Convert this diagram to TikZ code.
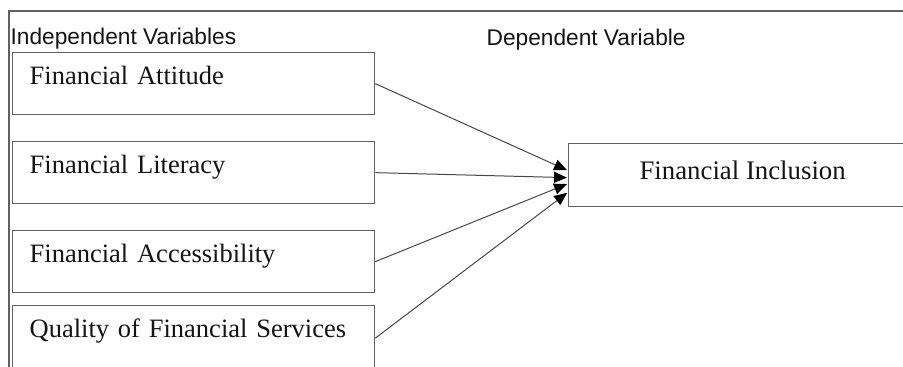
\documentclass[tikz,border=0pt]{standalone}
\usepackage{fontspec}
\setmainfont{Liberation Serif}
\setsansfont{Liberation Sans}
\usetikzlibrary{arrows.meta}

\begin{document}
\begin{tikzpicture}[x=1pt,y=-1pt,line width=1.3pt,draw=black!62]
    \tikzstyle{var box}=[draw,rectangle,anchor=north west,inner xsep=17pt,inner ysep=0pt,
        text width=328pt,align=left,text height=32pt,
        font=\fontsize{26.5}{30}\selectfont,text=black!92]
    \tikzstyle{dep box}=[draw,rectangle,anchor=north west,inner xsep=0pt,inner ysep=0pt,
        minimum width=348pt,text height=36pt,text depth=27pt,
        font=\fontsize{26.8}{30}\selectfont,text=black!92]
    \tikzstyle{annot}=[anchor=base west,inner sep=0pt,text=black!92,
        font=\sffamily\fontsize{22.7}{26}\selectfont]
    \tikzstyle{arr}=[-{Triangle[length=13pt,width=11pt,color=black]},
        line width=1pt,draw=black!72,shorten >=1pt]

    \useasboundingbox (0,0) rectangle (903,367);
    \clip (0,0) rectangle (903,367);

    % frame round the model
    \draw (9,368) -- (9,11) -- (904,11);

    % column headings
    \node[annot] (iv) at (10,44) {Independent Variables};
    \node[annot] (dv) at (486,45) {Dependent Variable};

    % the independent variables
    \foreach \name/\y/\dep/\label in {fa/52/30/Financial Attitude,
                                     fl/141/30/Financial Literacy,
                                     fac/230/30/Financial Accessibility,
                                     qfs/305/33/Quality of Financial Services}
        \node[var box,text depth=\dep pt] (\name) at (12,\y) {\label};

    % the dependent variable
    \node[dep box] (fi) at (568,143) {Financial Inclusion};

    % every independent variable points to the dependent one
    \foreach \source/\dy in {fa/4.5,fl/-2.5,fac/-8.5,qfs/-17}
        \draw[arr] (\source.east) -- ([yshift=\dy pt]fi.west);
\end{tikzpicture}
\end{document}
